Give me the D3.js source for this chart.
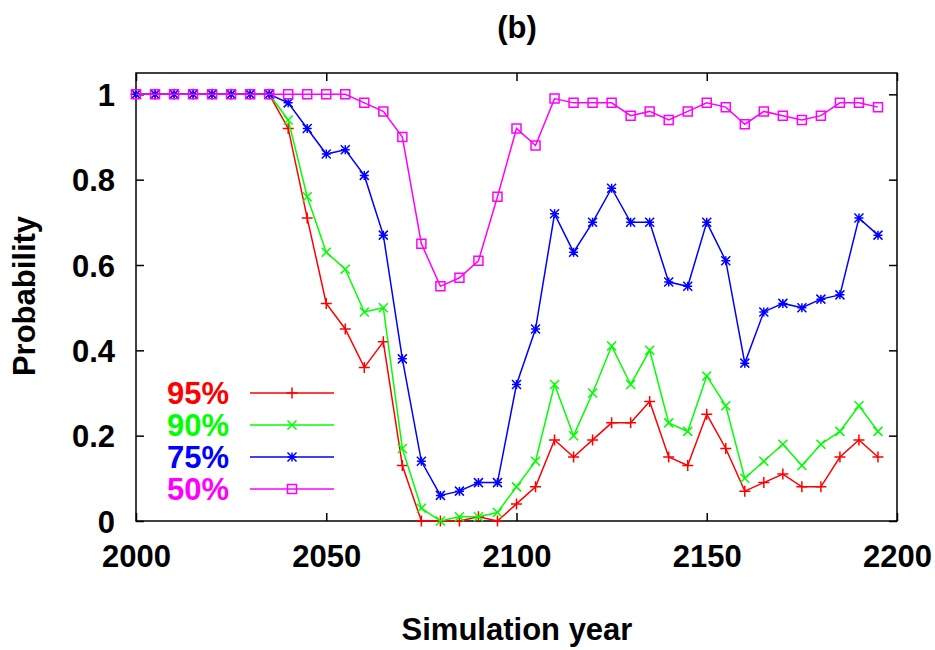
<!DOCTYPE html>
<html><head><meta charset="utf-8">
<script src="https://cdn.jsdelivr.net/npm/d3@7"></script>
<style>body{margin:0;background:#fff}svg text{font-family:"Liberation Sans",Arial,sans-serif;font-weight:bold}</style>
</head><body><svg id="c" width="935" height="650"></svg>
<script>
const years = d3.range(2000, 2200, 5);
const xTicks = [2000, 2050, 2100, 2150, 2200];
const yTicks = [0, 0.2, 0.4, 0.6, 0.8, 1];
const yTickLabels = ["0", "0.2", "0.4", "0.6", "0.8", "1"];
const seriesNames = ["95%", "90%", "75%", "50%"];
const seriesColors = ["#ff0000", "#00ff00", "#0000ff", "#ff00ff"];
const seriesMarkers = ["plus", "cross", "star", "square"];
const p95 = [1,1,1,1,1,1,1,1,0.92,0.71,0.51,0.45,0.36,0.42,0.13,0,0,0,0.01,0,0.04,0.08,0.19,0.15,0.19,0.23,0.23,0.28,0.15,0.13,0.25,0.17,0.07,0.09,0.11,0.08,0.08,0.15,0.19,0.15];
const p90 = [1,1,1,1,1,1,1,1,0.94,0.76,0.63,0.59,0.49,0.50,0.17,0.03,0,0.01,0.01,0.02,0.08,0.14,0.32,0.20,0.30,0.41,0.32,0.40,0.23,0.21,0.34,0.27,0.10,0.14,0.18,0.13,0.18,0.21,0.27,0.21];
const p75 = [1,1,1,1,1,1,1,1,0.98,0.92,0.86,0.87,0.81,0.67,0.38,0.14,0.06,0.07,0.09,0.09,0.32,0.45,0.72,0.63,0.70,0.78,0.70,0.70,0.56,0.55,0.70,0.61,0.37,0.49,0.51,0.50,0.52,0.53,0.71,0.67];
const p50 = [1,1,1,1,1,1,1,1,1,1,1,1,0.98,0.96,0.90,0.65,0.55,0.57,0.61,0.76,0.92,0.88,0.99,0.98,0.98,0.98,0.95,0.96,0.94,0.96,0.98,0.97,0.93,0.96,0.95,0.94,0.95,0.98,0.98,0.97];
const seriesValues = [p95, p90, p75, p50];

const svg = d3.select("#c");
const L = 136, R = 897, T = 73, B = 521;
const x = d3.scaleLinear().domain([2000, 2200]).range([L, R]);
const y = d3.scaleLinear().domain([0, 1.05]).range([B, T]);
const fs = 31;

// frame
svg.append("rect").attr("x", L).attr("y", T).attr("width", R - L).attr("height", B - T)
  .attr("fill", "none").attr("stroke", "#000").attr("stroke-width", 1.5);

// axes with inward ticks
const tl = 8;
const gx = svg.append("g").attr("transform", `translate(0,${B})`)
  .call(d3.axisBottom(x).tickValues(xTicks).tickFormat(d3.format("d")).tickSize(-tl).tickPadding(22));
const gxt = svg.append("g").attr("transform", `translate(0,${T})`)
  .call(d3.axisTop(x).tickValues(xTicks).tickFormat("").tickSize(-tl));
const gy = svg.append("g").attr("transform", `translate(${L},0)`)
  .call(d3.axisLeft(y).tickValues(yTicks).tickFormat((d, i) => yTickLabels[i]).tickSize(-tl).tickPadding(21));
const gyr = svg.append("g").attr("transform", `translate(${R},0)`)
  .call(d3.axisRight(y).tickValues(yTicks).tickFormat("").tickSize(-tl));
[gx, gxt, gy, gyr].forEach(g => {
  g.select(".domain").remove();
  g.selectAll(".tick line").attr("stroke", "#000").attr("stroke-width", 1.5);
  g.selectAll("text").attr("font-size", fs).attr("fill", "#000")
    .attr("font-family", "'Liberation Sans',Arial,sans-serif").attr("font-weight", "bold");
});
gx.selectAll("text").attr("dy", "0.71em").attr("y", 24);
gy.selectAll("text").attr("dy", "0.36em");

// markers
function markerPath(type, s) {
  const p = d3.path();
  if (type === "plus" || type === "star") {
    p.moveTo(-s, 0); p.lineTo(s, 0); p.moveTo(0, -s); p.lineTo(0, s);
  }
  if (type === "cross" || type === "star") {
    p.moveTo(-s, -s); p.lineTo(s, s); p.moveTo(-s, s); p.lineTo(s, -s);
  }
  if (type === "square") { p.rect(-s, -s, 2 * s, 2 * s); }
  return p.toString();
}

const line = d3.line().x(d => x(d[0])).y(d => y(d[1]));
seriesValues.forEach((vals, si) => {
  const pts = years.map((yr, i) => [yr, vals[i]]);
  const g = svg.append("g");
  g.append("path").datum(pts).attr("d", line).attr("fill", "none")
    .attr("stroke", seriesColors[si]).attr("stroke-width", 1.5);
  const ms = seriesMarkers[si] === "square" ? 4.5 : (seriesMarkers[si] === "plus" ? 5.5 : 4.5);
  g.selectAll("path.m").data(pts).enter().append("path").attr("class", "m")
    .attr("transform", d => `translate(${x(d[0])},${y(d[1])})`)
    .attr("d", markerPath(seriesMarkers[si], ms)).attr("fill", "none")
    .attr("stroke", seriesColors[si]).attr("stroke-width", 1.5);
});

// legend
const legY = [393, 425, 457, 489];
seriesNames.forEach((n, i) => {
  const g = svg.append("g").attr("transform", `translate(0,${legY[i]})`);
  g.append("text").attr("x", 229).attr("y", 0).attr("dy", "0.36em").attr("text-anchor", "end")
    .attr("font-size", fs).attr("fill", seriesColors[i]).text(n);
  g.append("line").attr("x1", 250).attr("x2", 334).attr("y1", 0).attr("y2", 0)
    .attr("stroke", seriesColors[i]).attr("stroke-width", 1.5);
  g.append("path").attr("transform", "translate(292,0)")
    .attr("d", markerPath(seriesMarkers[i], seriesMarkers[i] === "plus" ? 5.5 : 4.5))
    .attr("fill", "none").attr("stroke", seriesColors[i]).attr("stroke-width", 1.5);
});

// titles
svg.append("text").attr("x", 517).attr("y", 38).attr("text-anchor", "middle").attr("font-size", fs).text("(b)");
svg.append("text").attr("x", 517).attr("y", 640).attr("text-anchor", "middle").attr("font-size", fs).text("Simulation year");
svg.append("text").attr("transform", "translate(35,296) rotate(-90)").attr("text-anchor", "middle")
  .attr("font-size", fs).text("Probability");
</script></body></html>
